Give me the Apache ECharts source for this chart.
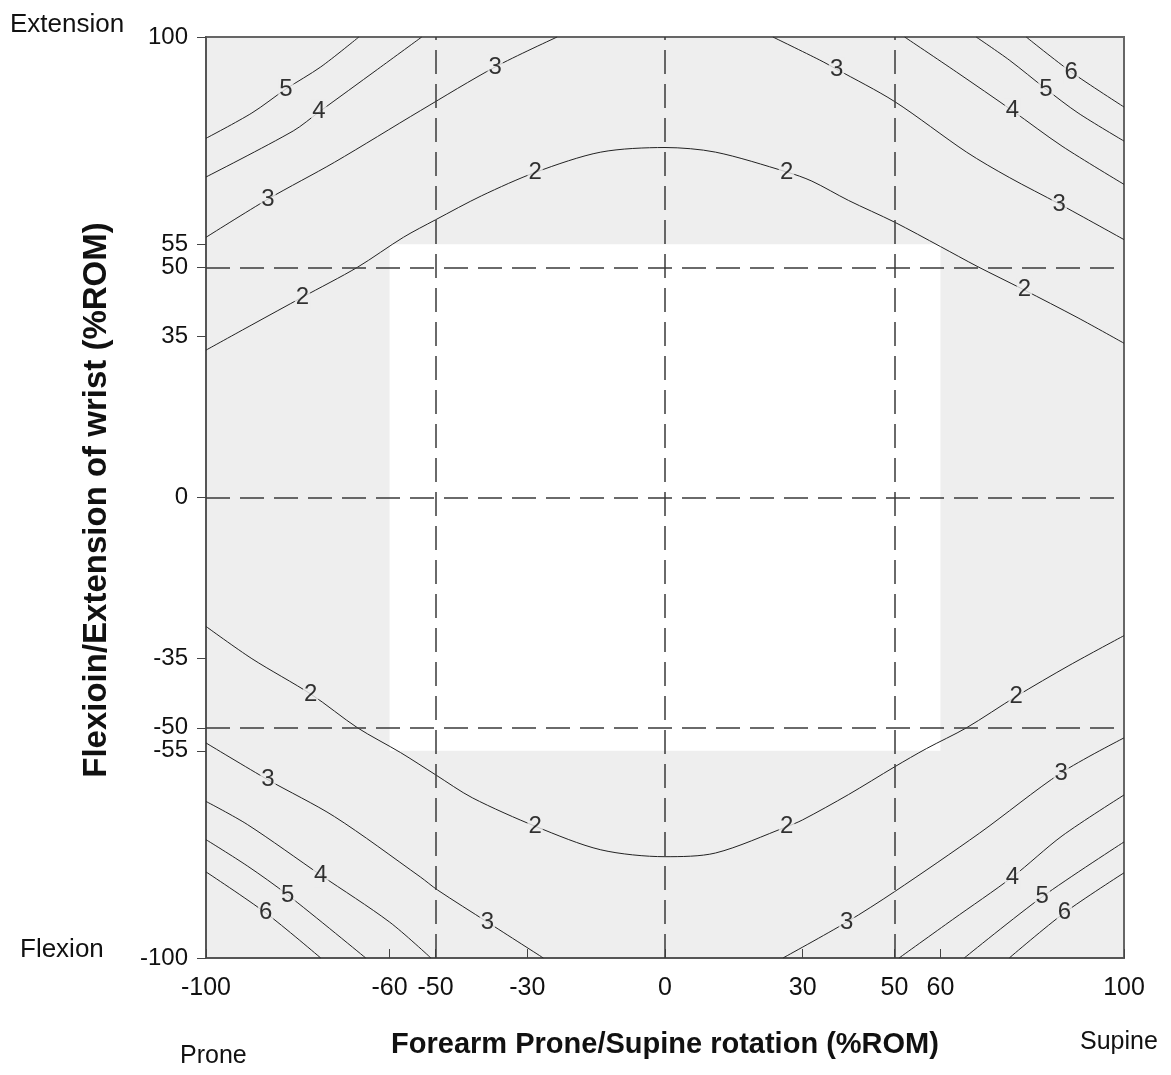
<!DOCTYPE html>
<html lang="en">
  <head>
    <meta charset="UTF-8" />
    <title>Wrist / forearm contour</title>
    <script src="https://cdn.jsdelivr.net/npm/echarts@6/dist/echarts.min.js"></script>
    <style>
      html, body { margin: 0; padding: 0; background: #fff; }
    </style>
  </head>
  <body>
    <div id="main" style="width: 1171px; height: 1075px"></div>
    <script type="text/javascript">
      // tick values shown on each axis
      const xTicks = [-100, -60, -50, -30, 0, 30, 50, 60, 100];
      const yTicks = [-100, -55, -50, -35, 0, 35, 50, 55, 100];
      const dashX = [-50, 0, 50];
      const dashY = [-50, 0, 50];

      // contour lines, [rotation, flexion/extension]
      const c2Upper = [[-100, 32], [-90, 37.5], [-79, 43.5], [-67, 50], [-57, 56.5], [-50, 60.3], [-40, 65.5], [-28, 70.7], [-14, 75], [0, 76], [11, 75], [26.5, 70.7], [32, 68.7], [40, 64.5], [50, 59.8], [60, 54.5], [68, 50.2], [78, 45.2], [90, 39], [100, 33.5]];
      const c3UpLeft = [[-100, 56.5], [-86.5, 64.8], [-72, 72.8], [-53.3, 84], [-37, 93.5], [-23.5, 100]];
      const c4UpLeft = [[-100, 69.6], [-81, 79.6], [-75.4, 83.7], [-62.6, 93], [-53, 100]];
      const c5UpLeft = [[-100, 78], [-90, 83.5], [-82.6, 88.7], [-75, 93.5], [-66.7, 100]];
      const c3UpRight = [[23.5, 100], [33.7, 95], [37.4, 93], [50, 86], [65.7, 75], [75, 69.5], [86, 63.7], [100, 56]];
      const c4UpRight = [[52.2, 100], [63.5, 92.4], [75.7, 84], [86.5, 76.3], [100, 68]];
      const c5UpRight = [[67.8, 100], [75, 95], [83, 88.7], [90, 83.5], [100, 77.4]];
      const c6UpRight = [[78.7, 100], [88.5, 92.4], [100, 84.8]];

      const c2Lower = [[-100, -28], [-90, -35], [-77, -42.8], [-67, -50], [-57.6, -55.4], [-50, -60.2], [-42, -65.2], [-28, -71.5], [-14, -76.5], [0, -78], [11, -77.2], [26.5, -71.5], [30, -70], [40, -64.5], [50, -58.5], [57, -54.5], [65.7, -50], [76.5, -43.2], [88, -36.5], [100, -30]];
      const c3LowLeft = [[-100, -53.3], [-86.5, -61.3], [-72, -69.3], [-53.3, -82.4], [-49.6, -85.2], [-38.7, -92.2], [-26.5, -100]];
      const c4LowLeft = [[-100, -66], [-91, -71], [-75, -82], [-60, -92.2], [-51, -100]];
      const c5LowLeft = [[-100, -74.3], [-91, -80], [-82.2, -86.3], [-65.2, -100]];
      const c6LowLeft = [[-100, -81.3], [-87, -90.2], [-75, -100]];
      const c3LowRight = [[25.7, -100], [39.6, -92.2], [50, -85.6], [68.5, -72.9], [86.3, -59.8], [100, -52.2]];
      const c4LowRight = [[51, -100], [62.6, -91.7], [75.7, -82.4], [86.5, -73.5], [100, -64.6]];
      const c5LowRight = [[65.2, -100], [82.2, -86.7], [100, -74.8]];
      const c6LowRight = [[75, -100], [87, -90.2], [100, -81.5]];

      // contour level labels, [x, y, level]
      const levelLabels = [
        [-82.6, 88.7, 5], [-75.4, 83.8, 4], [-86.5, 64.8, 3], [-37, 93.5, 3], [-79, 43.5, 2],
        [-28.3, 70.7, 2], [26.5, 70.7, 2], [37.4, 93, 3], [75.7, 84, 4], [83, 88.7, 5],
        [88.5, 92.4, 6], [85.9, 63.7, 3], [78.3, 45.2, 2],
        [-77.2, -42.8, 2], [-86.5, -61.3, 3], [-75, -82, 4], [-82.2, -86.3, 5], [-87, -90.2, 6],
        [-28.3, -71.5, 2], [-38.7, -92.2, 3], [26.5, -71.5, 2], [39.6, -92.2, 3], [75.7, -82.4, 4],
        [82.2, -86.7, 5], [87, -90.2, 6], [86.3, -59.8, 3], [76.5, -43.2, 2]
      ];

      const contours = [
        c2Upper, c3UpLeft, c4UpLeft, c5UpLeft, c3UpRight, c4UpRight, c5UpRight, c6UpRight,
        c2Lower, c3LowLeft, c4LowLeft, c5LowLeft, c6LowLeft, c3LowRight, c4LowRight, c5LowRight, c6LowRight
      ];

      const font = "Liberation Sans, Arial, sans-serif";
      const gray = "#eeeeee";

      let myChart = echarts.init(document.getElementById("main"));

      let series = [
        {
          // white comfort zone + dashed reference lines
          type: "line",
          data: [],
          z: 1,
          markArea: {
            silent: true,
            itemStyle: { color: "#ffffff" },
            data: [[{ xAxis: -60, yAxis: 55 }, { xAxis: 60, yAxis: -55 }]],
          },
          markLine: {
            silent: true,
            symbol: "none",
            label: { show: false },
            lineStyle: { color: "#3a3a3a", width: 1.5, type: [24, 10] },
            data: dashX.map((v) => ({ xAxis: v })).concat(dashY.map((v) => ({ yAxis: v }))),
          },
        },
      ];

      contours.forEach((c) => {
        series.push({
          type: "line",
          data: c,
          smooth: 0.3,
          showSymbol: false,
          z: 3,
          lineStyle: { color: "#222", width: 1 },
        });
      });

      series.push({
        type: "scatter",
        data: levelLabels,
        symbolSize: 0,
        z: 4,
        label: {
          show: true,
          position: "inside",
          formatter: (p) => String(p.value[2]),
          fontFamily: font,
          fontSize: 24,
          color: "#000",
          backgroundColor: gray,
          padding: [0, 1],
        },
      });

      let options = {
        animation: false,
        grid: {
          left: 206,
          top: 37,
          right: 47,
          bottom: 117,
          show: true,
          backgroundColor: gray,
          borderColor: "#666",
          borderWidth: 2,
        },
        xAxis: {
          type: "value",
          min: -100,
          max: 100,
          splitLine: { show: false },
          axisLine: { onZero: false, lineStyle: { color: "#555", width: 2 } },
          axisTick: { inside: true, length: 9, customValues: xTicks, lineStyle: { color: "#444" } },
          axisLabel: { customValues: xTicks, margin: 18, fontSize: 25, color: "#111", fontFamily: font },
        },
        yAxis: {
          type: "value",
          min: -100,
          max: 100,
          splitLine: { show: false },
          axisLine: { onZero: false, lineStyle: { color: "#555", width: 2 } },
          axisTick: { length: 9, customValues: yTicks, lineStyle: { color: "#444" } },
          axisLabel: { customValues: yTicks, margin: 18, fontSize: 24, color: "#111", fontFamily: font },
        },
        graphic: [
          { type: "text", left: 10, top: 12, style: { text: "Extension", font: "26px " + font, fill: "#111" } },
          { type: "text", left: 20, top: 937, style: { text: "Flexion", font: "26px " + font, fill: "#111" } },
          { type: "text", left: 180, top: 1044, style: { text: "Prone", font: "25px " + font, fill: "#111" } },
          { type: "text", left: 1080, top: 1030, style: { text: "Supine", font: "25px " + font, fill: "#111" } },
          {
            type: "text",
            x: 665,
            y: 1045,
            style: { text: "Forearm Prone/Supine rotation (%ROM)", font: "bold 29px " + font, fill: "#111", align: "center", verticalAlign: "middle" },
          },
          {
            type: "text",
            x: 97,
            y: 500,
            rotation: Math.PI / 2,
            style: { text: "Flexioin/Extension of wrist (%ROM)", font: "bold 33px " + font, fill: "#111", align: "center", verticalAlign: "middle" },
          },
        ],
        series: series,
      };

      myChart.setOption(options);
    </script>
  </body>
</html>
